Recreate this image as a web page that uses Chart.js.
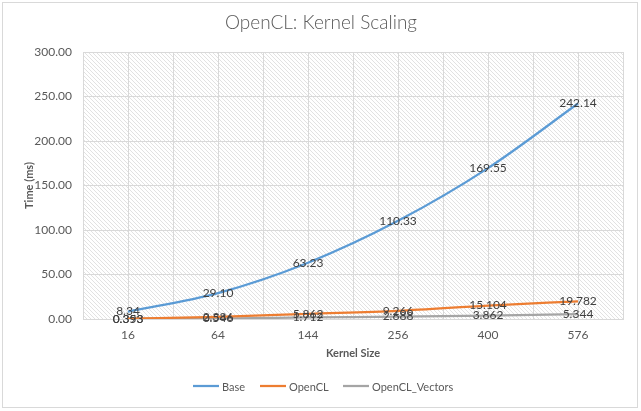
<!DOCTYPE html>
<html>
<head>
<meta charset="utf-8">
<script src="https://cdn.jsdelivr.net/npm/chart.js@4"></script>
<style>
html,body{margin:0;padding:0;background:#fff;}
#wrap{width:641px;height:411px;}
</style>
</head>
<body>
<div id="wrap"><canvas id="c" width="641" height="411"></canvas></div>
<script>
const categories = ['16', '64', '144', '256', '400', '576'];
const baseValues = [8.34, 29.10, 63.23, 110.33, 169.55, 242.14];
const openclValues = [0.393, 2.386, 5.862, 9.266, 15.104, 19.782];
const vectorValues = [0.353, 0.546, 1.712, 2.688, 3.862, 5.344];
const baseLabels = ['8.34', '29.10', '63.23', '110.33', '169.55', '242.14'];
const openclLabels = ['0.393', '2.386', '5.862', '9.266', '15.104', '19.782'];
const vectorLabels = ['0.353', '0.546', '1.712', '2.688', '3.862', '5.344'];
const seriesNames = ['Base', 'OpenCL', 'OpenCL_Vectors'];
const chartTitle = 'OpenCL: Kernel Scaling';
const xTitle = 'Kernel Size';
const yTitle = 'Time (ms)';

const FONT = 'Lato, "Open Sans", sans-serif';
const colors = ['#5B9BD5', '#ED7D31', '#A5A5A5'];

function toPoints(vals){ return vals.map((v,i)=>({x:i+0.5,y:v})); }

function makePattern(ctx){
  const s = 4;
  const p = document.createElement('canvas');
  p.width = s; p.height = s;
  const pc = p.getContext('2d');
  pc.fillStyle = '#ffffff';
  pc.fillRect(0,0,s,s);
  pc.strokeStyle = '#d6d6d6';
  pc.lineWidth = 0.7;
  for (let k=-1;k<=1;k++){
    pc.beginPath();
    pc.moveTo(k*s, 0);
    pc.lineTo(k*s+s, s);
    pc.stroke();
  }
  return ctx.createPattern(p,'repeat');
}

const decor = {
  id:'decor',
  beforeDraw(chart){
    const {ctx, chartArea:a} = chart;
    ctx.save();
    ctx.fillStyle = '#fff';
    ctx.fillRect(0,0,chart.width,chart.height);
    ctx.fillStyle = makePattern(ctx);
    ctx.fillRect(a.left,a.top,a.right-a.left,a.bottom-a.top);
    ctx.restore();
  },
  afterDraw(chart){
    const {ctx, chartArea:a} = chart;
    ctx.save();
    ctx.strokeStyle = '#d9d9d9';
    ctx.lineWidth = 1;
    ctx.strokeRect(2.5,2.5,635,405);
    ctx.fillStyle = '#595959';
    ctx.textAlign = 'center';
    ctx.textBaseline = 'middle';
    ctx.font = '300 19px ' + FONT;
    ctx.fillText(chartTitle, 321, 23);
    ctx.font = 'bold 11px ' + FONT;
    ctx.fillText(xTitle, (a.left+a.right)/2, 353);
    ctx.save();
    ctx.translate(29, (a.top+a.bottom)/2);
    ctx.rotate(-Math.PI/2);
    ctx.fillText(yTitle, 0, 0);
    ctx.restore();
    ctx.font = '12px ' + FONT;
    ctx.fillStyle = '#404040';
    const labelSets = [baseLabels, openclLabels, vectorLabels];
    chart.data.datasets.forEach((ds, di)=>{
      const meta = chart.getDatasetMeta(di);
      meta.data.forEach((pt, i)=>{
        ctx.fillText(labelSets[di][i], pt.x, pt.y);
      });
    });
    ctx.font = '11px ' + FONT;
    ctx.textAlign = 'left';
    ctx.fillStyle = '#595959';
    const lx = [193, 260, 343];
    const ly = 386;
    seriesNames.forEach((n,i)=>{
      ctx.strokeStyle = colors[i];
      ctx.lineWidth = 2.25;
      ctx.beginPath();
      ctx.moveTo(lx[i], ly);
      ctx.lineTo(lx[i]+26, ly);
      ctx.stroke();
      ctx.fillText(n, lx[i]+29, ly+1);
    });
    ctx.restore();
  }
};

new Chart(document.getElementById('c'), {
  type:'line',
  data:{
    datasets:[
      {label:seriesNames[0], data:toPoints(baseValues), borderColor:colors[0], backgroundColor:colors[0]},
      {label:seriesNames[1], data:toPoints(openclValues), borderColor:colors[1], backgroundColor:colors[1]},
      {label:seriesNames[2], data:toPoints(vectorValues), borderColor:colors[2], backgroundColor:colors[2]}
    ].map(d=>Object.assign(d,{borderWidth:2.25, pointRadius:0, tension:0.4, cubicInterpolationMode:'monotone', fill:false}))
  },
  options:{
    responsive:false,
    animation:false,
    devicePixelRatio:1,
    layout:{padding:{top:52,right:18,left:0,bottom:0}},
    plugins:{legend:{display:false}, title:{display:false}, tooltip:{enabled:false}},
    scales:{
      x:{
        type:'linear', min:0, max:6,
        afterFit(s){ s.height = 92; },
        afterBuildTicks(s){ const t=[]; for(let i=0;i<=12;i++) t.push({value:i*0.5}); s.ticks=t; },
        ticks:{autoSkip:false, maxRotation:0, padding:9, color:'#595959', font:{family:FONT,size:12},
          callback:(v)=>{ const i=v-0.5; return Number.isInteger(i) && categories[i]!==undefined ? categories[i] : ''; }},
        grid:{color:'#d9d9d9', lineWidth:1, drawTicks:false},
        border:{color:'#d9d9d9'}
      },
      y:{
        min:0, max:300,
        afterFit(s){ s.width = 83; },
        ticks:{stepSize:50, padding:11, color:'#595959', font:{family:FONT,size:12}, callback:(v)=>Number(v).toFixed(2)},
        grid:{color:'#d9d9d9', lineWidth:1, drawTicks:false},
        border:{display:false}
      }
    }
  },
  plugins:[decor]
});
</script>
</body>
</html>
